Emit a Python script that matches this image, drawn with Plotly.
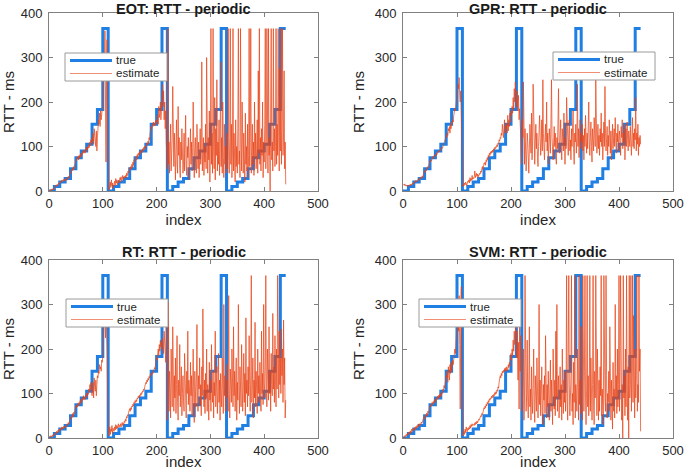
import plotly.graph_objects as go

# ---------------- data ----------------
index = list(range(1, 441))

# step levels of the true RTT (one period of 11 steps, 10 samples each), 4 periods
period_levels = [0, 10, 20, 28, 50, 75, 90, 105, 150, 183, 365]
true_x = list(range(0, 440, 10)) + [440]
true_y = period_levels * 4 + [365]

eot_est = [
    2, 0, 3, 1, 4, 2, 5, 3, 6, 4,
    8, 12, 10, 14, 11, 15, 13, 18, 16, 20,
    18, 22, 20, 25, 21, 24, 23, 27, 22, 26,
    25, 28, 24, 30, 27, 33, 29, 35, 38, 42,
    40, 48, 45, 52, 47, 55, 50, 60, 62, 70,
    68, 75, 72, 78, 70, 80, 74, 82, 76, 85,
    80, 88, 84, 92, 86, 90, 85, 95, 88, 98,
    92, 100, 96, 104, 98, 110, 102, 115, 108, 120,
    112, 130, 105, 140, 118, 125, 100, 135, 90, 120,
    140, 160, 150, 175, 145, 180, 160, 170, 185, 190,
    210, 300, 250, 360, 200, 65, 280, 340, 150, 20,
    5, 2, 10, 20, 8, 25, 12, 18, 6, 15,
    15, 22, 12, 28, 18, 25, 14, 20, 24, 18,
    22, 30, 25, 32, 20, 28, 35, 26, 30, 33,
    30, 35, 28, 40, 33, 38, 45, 40, 48, 52,
    50, 55, 48, 60, 52, 65, 58, 70, 66, 72,
    72, 78, 70, 82, 76, 85, 80, 88, 82, 90,
    88, 92, 86, 95, 90, 98, 93, 100, 96, 102,
    100, 108, 104, 112, 106, 120, 115, 130, 140, 145,
    140, 150, 145, 155, 148, 152, 146, 158, 150, 160,
    155, 170, 150, 190, 165, 175, 200, 160, 185, 215,
    240, 190, 225, 160, 200, 140, 180, 110, 65, 50,
    365, 60, 110, 40, 85, 150, 45, 70, 120, 235,
    90, 55, 130, 70, 25, 100, 160, 60, 40, 190,
    80, 120, 50, 30, 110, 70, 140, 95, 40, 60,
    130, 45, 85, 170, 60, 35, 100, 75, 120, 50,
    25, 90, 140, 60, 110, 45, 80, 200, 55, 30,
    95, 120, 65, 40, 150, 85, 50, 110, 30, 70,
    140, 60, 95, 290, 45, 80, 120, 35, 100, 65,
    150, 50, 300, 85, 40, 120, 70, 180, 20, 110,
    365, 60, 130, 40, 365, 90, 50, 210, 25, 140,
    80, 250, 45, 110, 60, 160, 35, 95, 290, 55,
    120, 40, 200, 75, 30, 150, 60, 100, 40, 85,
    130, 50, 365, 80, 40, 120, 365, 60, 150, 30,
    90, 365, 45, 130, 70, 20, 160, 55, 100, 40,
    140, 365, 60, 90, 30, 365, 110, 45, 200, 70,
    40, 130, 85, 20, 175, 60, 100, 45, 150, 30,
    80, 365, 55, 120, 365, 40, 90, 150, 60, 110,
    35, 200, 75, 130, 50, 90, 160, 40, 270, 85,
    365, 60, 120, 45, 140, 80, 200, 30, 110, 65,
    150, 365, 50, 90, 365, 130, 40, 365, 80, 120,
    0, 160, 365, 70, 110, 45, 365, 90, 140, 55,
    100, 365, 60, 150, 80, 365, 120, 45, 275, 90,
    365, 60, 150, 365, 80, 130, 270, 50, 110, 15,
]

gpr_est = [
    15, 13, 16, 12, 14, 11, 13, 12, 10, 12,
    12, 14, 11, 15, 13, 16, 14, 18, 16, 20,
    18, 22, 20, 24, 21, 23, 22, 26, 24, 28,
    26, 30, 28, 32, 29, 34, 31, 38, 40, 45,
    42, 48, 45, 52, 50, 55, 52, 60, 62, 68,
    65, 70, 68, 75, 72, 78, 74, 80, 78, 82,
    80, 85, 82, 88, 86, 90, 88, 92, 90, 95,
    94, 98, 96, 100, 102, 108, 110, 115, 118, 125,
    120, 130, 125, 140, 135, 145, 130, 150, 140, 155,
    150, 160, 155, 170, 175, 185, 180, 200, 205, 215,
    220, 240, 230, 255, 215, 200, 225, 180, 120, 30,
    10, 15, 12, 18, 14, 20, 16, 12, 18, 22,
    20, 25, 18, 30, 22, 28, 24, 35, 26, 30,
    28, 32, 45, 30, 35, 40, 33, 38, 30, 36,
    35, 40, 38, 45, 42, 50, 55, 48, 58, 62,
    60, 65, 58, 70, 66, 75, 70, 80, 76, 85,
    80, 88, 84, 90, 86, 92, 88, 95, 92, 98,
    95, 100, 98, 104, 100, 108, 105, 115, 112, 120,
    118, 130, 125, 150, 135, 120, 140, 160, 130, 145,
    140, 150, 130, 170, 135, 160, 145, 175, 155, 180,
    170, 190, 175, 210, 185, 230, 200, 245, 210, 190,
    225, 200, 180, 215, 160, 185, 150, 120, 90, 60,
    160, 120, 245, 90, 60, 140, 100, 45, 80, 130,
    110, 60, 40, 95, 150, 120, 85, 175, 70, 110,
    240, 130, 90, 60, 110, 150, 95, 130, 75, 55,
    100, 140, 170, 120, 80, 110, 160, 90, 250, 130,
    95, 70, 120, 150, 110, 200, 90, 130, 60, 100,
    140, 115, 85, 160, 250, 120, 95, 70, 110, 145,
    100, 130, 80, 60, 120, 95, 155, 230, 110, 85,
    125, 160, 100, 70, 140, 115, 90, 175, 130, 60,
    120, 95, 210, 140, 100, 80, 130, 160, 90, 115,
    70, 140, 100, 125, 180, 95, 60, 130, 110, 150,
    85, 120, 240, 100, 140, 75, 115, 160, 95, 130,
    110, 150, 90, 125, 70, 140, 100, 170, 120, 85,
    130, 95, 145, 200, 110, 80, 120, 155, 100, 65,
    140, 115, 90, 165, 120, 100, 250, 135, 85, 110,
    150, 95, 125, 80, 140, 110, 175, 100, 130, 70,
    120, 155, 100, 235, 130, 90, 115, 145, 80, 125,
    100, 160, 120, 85, 135, 70, 110, 150, 95, 125,
    140, 100, 165, 120, 85, 130, 110, 150, 90, 120,
    135, 100, 80, 145, 120, 160, 95, 130, 110, 150,
    70, 125, 140, 100, 155, 115, 90, 135, 120, 100,
    145, 110, 80, 125, 165, 100, 130, 95, 140, 115,
    210, 90, 130, 105, 150, 80, 120, 100, 125, 105,
]

rt_est = [
    3, 1, 5, 2, 4, 6, 3, 8, 5, 7,
    9, 12, 8, 15, 11, 14, 18, 13, 20, 17,
    19, 22, 18, 25, 21, 24, 20, 27, 23, 26,
    24, 28, 26, 32, 29, 35, 31, 38, 42, 45,
    43, 50, 46, 55, 48, 58, 54, 62, 65, 72,
    68, 74, 70, 78, 72, 80, 75, 84, 78, 88,
    82, 90, 85, 95, 88, 92, 86, 96, 90, 100,
    94, 102, 98, 110, 104, 120, 108, 125, 112, 95,
    110, 125, 90, 135, 115, 105, 130, 95, 120, 140,
    135, 150, 145, 165, 155, 160, 150, 175, 170, 185,
    230, 260, 250, 300, 225, 280, 240, 200, 100, 10,
    5, 12, 25, 8, 20, 15, 28, 10, 22, 18,
    15, 25, 18, 30, 20, 28, 22, 26, 32, 24,
    28, 26, 32, 25, 30, 35, 28, 33, 30, 38,
    35, 42, 38, 48, 45, 52, 50, 58, 62, 66,
    60, 68, 64, 72, 70, 76, 72, 80, 78, 84,
    80, 86, 82, 90, 88, 94, 90, 96, 92, 100,
    96, 102, 100, 106, 104, 110, 108, 115, 120, 125,
    122, 130, 126, 134, 130, 138, 135, 142, 140, 145,
    142, 148, 145, 152, 150, 158, 155, 165, 170, 180,
    175, 190, 200, 185, 210, 195, 220, 205, 215, 200,
    225, 210, 190, 240, 215, 200, 170, 300, 60, 40,
    80, 305, 60, 150, 110, 45, 200, 130, 70, 250,
    100, 60, 140, 90, 180, 55, 120, 230, 80, 40,
    130, 95, 210, 70, 110, 160, 50, 100, 140, 85,
    60, 190, 120, 90, 45, 150, 100, 240, 75, 130,
    110, 60, 170, 95, 140, 50, 115, 200, 80, 35,
    150, 100, 70, 130, 255, 90, 60, 140, 110, 180,
    75, 120, 50, 160, 95, 290, 110, 70, 130, 55,
    145, 90, 200, 60, 120, 100, 40, 170, 85, 130,
    60, 210, 110, 80, 150, 45, 125, 95, 240, 70,
    115, 160, 55, 100, 190, 80, 130, 40, 145, 100,
    70, 180, 120, 55, 300, 95, 140, 60, 110, 165,
    90, 130, 60, 320, 100, 45, 155, 115, 80, 200,
    130, 70, 250, 95, 150, 60, 110, 180, 40, 125,
    85, 300, 120, 55, 160, 100, 70, 210, 135, 60,
    110, 190, 80, 145, 50, 270, 100, 130, 70, 160,
    95, 230, 120, 60, 150, 365, 80, 110, 180, 45,
    130, 90, 260, 70, 150, 110, 55, 200, 100, 140,
    80, 170, 120, 60, 240, 100, 145, 75, 300, 125,
    90, 160, 365, 110, 70, 200, 130, 85, 250, 100,
    150, 60, 190, 120, 95, 280, 110, 160, 80, 230,
    130, 70, 200, 110, 365, 150, 90, 240, 120, 180,
    100, 245, 140, 200, 80, 265, 120, 180, 45, 85,
]

svm_est = [
    2, 0, 4, 6, 3, 8, 5, 10, 7, 12,
    10, 14, 8, 16, 12, 20, 15, 18, 22, 17,
    20, 24, 18, 26, 22, 28, 24, 30, 26, 32,
    28, 32, 30, 36, 33, 40, 38, 45, 48, 42,
    46, 52, 48, 56, 50, 60, 55, 65, 68, 72,
    70, 76, 72, 80, 75, 82, 78, 85, 80, 88,
    84, 90, 86, 94, 88, 96, 90, 98, 92, 100,
    95, 104, 100, 110, 106, 118, 112, 125, 130, 140,
    135, 150, 125, 160, 140, 130, 165, 145, 170, 150,
    160, 175, 165, 185, 180, 200, 190, 215, 230, 250,
    260, 300, 240, 320, 210, 65, 280, 340, 120, 10,
    5, 10, 15, 8, 20, 12, 25, 18, 14, 22,
    18, 24, 20, 28, 22, 30, 26, 32, 28, 30,
    30, 28, 34, 30, 36, 32, 38, 34, 40, 42,
    40, 46, 44, 50, 48, 55, 52, 60, 65, 68,
    65, 72, 68, 76, 72, 80, 76, 84, 80, 88,
    85, 90, 88, 94, 90, 96, 92, 98, 95, 102,
    98, 104, 100, 108, 105, 115, 112, 125, 130, 140,
    135, 145, 140, 150, 146, 152, 148, 156, 150, 158,
    152, 160, 155, 150, 165, 158, 170, 162, 180, 190,
    175, 200, 185, 220, 195, 240, 210, 230, 260, 180,
    240, 200, 130, 215, 65, 280, 150, 230, 100, 60,
    70, 120, 200, 40, 90, 365, 150, 60, 100, 220,
    80, 45, 130, 250, 70, 110, 40, 160, 90, 55,
    120, 200, 70, 35, 140, 95, 60, 180, 110, 45,
    90, 300, 75, 130, 50, 100, 160, 60, 30, 120,
    85, 140, 55, 230, 100, 45, 120, 70, 150, 90,
    40, 110, 175, 60, 130, 80, 30, 200, 95, 65,
    130, 50, 240, 90, 300, 60, 110, 140, 45, 85,
    160, 70, 120, 40, 200, 95, 55, 130, 80, 150,
    60, 110, 365, 85, 40, 190, 365, 120, 50, 90,
    140, 365, 60, 100, 30, 170, 80, 365, 45, 120,
    90, 60, 200, 110, 40, 365, 75, 130, 55, 250,
    80, 40, 365, 120, 60, 150, 365, 90, 30, 110,
    365, 70, 140, 50, 100, 365, 60, 180, 90, 40,
    120, 365, 70, 30, 150, 90, 365, 110, 50, 200,
    80, 40, 130, 60, 160, 95, 365, 50, 110, 70,
    30, 365, 120, 90, 60, 365, 140, 45, 100, 80,
    150, 60, 250, 110, 40, 130, 85, 20, 170, 60,
    110, 45, 300, 90, 140, 55, 200, 70, 120, 365,
    60, 150, 365, 80, 40, 120, 0, 365, 90, 140,
    50, 200, 70, 365, 110, 40, 160, 0, 365, 90,
    120, 365, 60, 150, 365, 80, 275, 130, 45, 200,
    90, 140, 365, 60, 120, 80, 365, 150, 200, 15,
]

titles = ["EOT: RTT - periodic", "GPR: RTT - periodic",
          "RT: RTT - periodic", "SVM: RTT - periodic"]
estimates = [eot_est, gpr_est, rt_est, svm_est]
series_names = ["true", "estimate"]
x_ticks = [0, 100, 200, 300, 400, 500]
y_ticks = [0, 100, 200, 300, 400]

# ---------------- layout geometry (pixels of a 685x470 page) ----------------
W, H = 685, 470
x_doms = [[49 / W, 318 / W], [403 / W, 673 / W]]
y_doms = [[1 - 191 / H, 1 - 13 / H], [1 - 438 / H, 1 - 260 / H]]
legend_box_px = [(65, 53), (553, 52), (66, 299), (419, 299)]  # left, top
LEG_W, LEG_H = 102, 28

FONT = "Liberation Sans, Arial, Helvetica, sans-serif"
BLUE = "#1f7fe3"
ORANGE = "rgba(232,66,22,0.72)"
AXC = "#808080"


def px(xp):
    return xp / W


def py(yp):
    return 1 - yp / H


fig = go.Figure()
layout = dict(
    width=W, height=H, margin=dict(l=0, r=0, t=0, b=0, pad=0),
    paper_bgcolor="white", plot_bgcolor="white",
    font=dict(family=FONT, color="#262626"),
    showlegend=False,
    annotations=[], shapes=[],
)

for k in range(4):
    r, c = divmod(k, 2)
    sfx = "" if k == 0 else str(k + 1)
    fig.add_trace(go.Scatter(
        x=true_x, y=true_y, mode="lines", line_shape="hv",
        line=dict(color=BLUE, width=3), name=series_names[0],
        xaxis="x" + sfx, yaxis="y" + sfx))
    fig.add_trace(go.Scatter(
        x=index, y=estimates[k], mode="lines",
        line=dict(color=ORANGE, width=1), name=series_names[1],
        xaxis="x" + sfx, yaxis="y" + sfx))

    axcommon = dict(showgrid=False, zeroline=False, showline=True, mirror="ticks",
                    linecolor=AXC, linewidth=1, ticks="inside", ticklen=4,
                    tickcolor=AXC, automargin=False,
                    tickfont=dict(size=13, color="#262626"))
    layout["xaxis" + sfx] = dict(
        domain=x_doms[c], range=[0, 500], tickvals=x_ticks,
        anchor="y" + sfx,
        title=dict(text="index", font=dict(size=15), standoff=2), **axcommon)
    layout["yaxis" + sfx] = dict(
        domain=y_doms[r], range=[0, 400], tickvals=y_ticks,
        anchor="x" + sfx, ticklabelstandoff=3,
        title=dict(text="RTT - ms", font=dict(size=15), standoff=6), **axcommon)

    # subplot title
    if r == 0:
        ttl = dict(y=1, yanchor="top", yshift=0)
    else:
        ttl = dict(y=y_doms[r][1], yanchor="bottom", yshift=-1)
    layout["annotations"].append(dict(
        text="<b>" + titles[k] + "</b>", xref="paper", yref="paper",
        x=sum(x_doms[c]) / 2, xanchor="center", showarrow=False, borderpad=0,
        font=dict(size=14.5, color="#1a1a1a"), **ttl))

    # legend box (drawn like the MATLAB legend)
    lx, ly = legend_box_px[k]
    layout["shapes"].append(dict(
        type="rect", xref="paper", yref="paper", layer="above",
        x0=px(lx), x1=px(lx + LEG_W), y0=py(ly + LEG_H), y1=py(ly),
        line=dict(color="#9a9a9a", width=1), fillcolor="white"))
    rows = [(ly + 7.5, BLUE, 3), (ly + 20.5, "rgba(232,66,22,0.6)", 1)]
    for (ry, col, wdt), nm in zip(rows, series_names):
        layout["shapes"].append(dict(
            type="line", xref="paper", yref="paper", layer="above",
            x0=px(lx + 5), x1=px(lx + 47), y0=py(ry), y1=py(ry),
            line=dict(color=col, width=wdt)))
        layout["annotations"].append(dict(
            text=nm, xref="paper", yref="paper", x=px(lx + 50), y=py(ry),
            xanchor="left", yanchor="middle", showarrow=False, borderpad=0,
            font=dict(size=11.5, color="#262626")))

fig.update_layout(**layout)
fig.write_html("out.html",
               config={"displayModeBar": False},
               post_script="document.body.style.margin='0';"
                           "document.body.style.padding='0';")
